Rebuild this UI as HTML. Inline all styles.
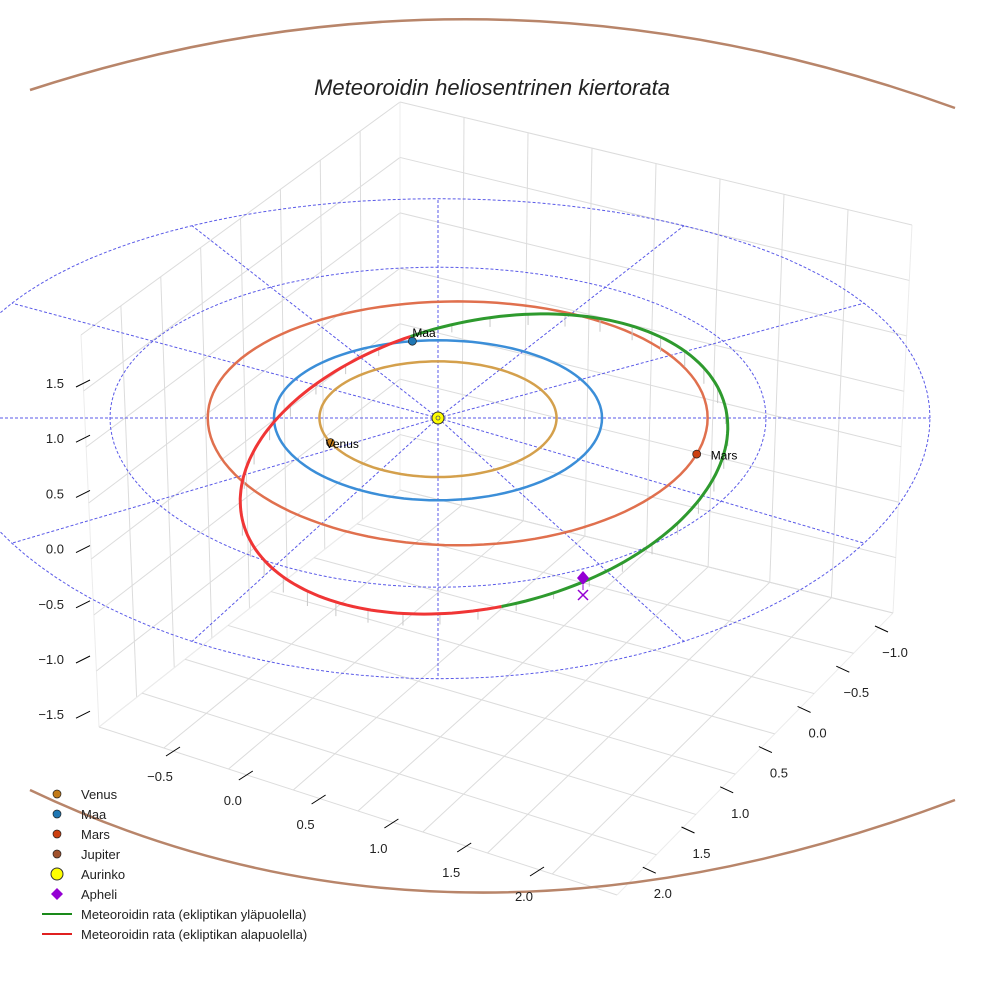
<!DOCTYPE html>
<html><head><meta charset="utf-8"><style>
body{margin:0;background:#fff}
svg{display:block;font-family:"Liberation Sans",sans-serif}
</style></head><body>
<svg id="c" width="984" height="984" viewBox="0 0 984 984">
<rect width="984" height="984" fill="#fff"/>
<g id="grid"></g><g id="dash"></g><g id="orbits"></g><g id="marks"></g><g id="axes"></g><g id="legend"></g>
<text x="492" y="95" text-anchor="middle" font-size="22" font-style="italic" fill="#222">Meteoroidin heliosentrinen kiertorata</text>
</svg>
<script>
const planetNames=["Venus","Maa","Mars","Jupiter"];
const planetA=[0.723,1.0,1.524,5.2];
const planetCenterX=[0,0,0.12,0];
const planetColors=["#d4a04c","#3b8ed8","#e0704e","#b8856a"];
const planetMarkerColors=["#c27a18","#1f77b4","#cc4010","#a0522d"];
const planetAngles=[205,99,-17,0];
const zTicks=["1.5","1.0","0.5","0.0","−0.5","−1.0","−1.5"];
const xTicks=["−0.5","0.0","0.5","1.0","1.5","2.0"];
const yTicks=["−1.0","−0.5","0.0","0.5","1.0","1.5","2.0"];
const refRadii=[2,3];
const radialAngles=[0,30,60,90,120,150,180,210,240,270,300,330];
const NS="http://www.w3.org/2000/svg";
function el(tag,attrs,parent){const e=document.createElementNS(NS,tag);for(const k in attrs)e.setAttribute(k,attrs[k]);parent.appendChild(e);return e;}
const SX=164,SY=80,CX=438,CY=418;
function px(X,Y){return [CX+SX*X, CY-SY*Y+2.3*Y*Y];}
const grid=document.getElementById('grid');
function lerp(a,b,t){return [a[0]+(b[0]-a[0])*t,a[1]+(b[1]-a[1])*t];}
function bil(p,u,v){const a=lerp(p[0],p[1],u),b=lerp(p[3],p[2],u);return lerp(a,b,v);}
const panes=[
 [[81,335],[400,102],[400,490],[99,727]],
 [[400,102],[912,225],[893,613],[400,490]],
 [[400,490],[893,613],[617,895],[99,727]]];
panes.forEach((p,i)=>{
 const g=el('g',{},grid);
 
 
 const nu=8,nv=7;
 for(let k=0;k<=nu;k++){const u=k/nu;const a=bil(p,u,0),b=bil(p,u,1);
  el('line',{x1:a[0],y1:a[1],x2:b[0],y2:b[1],stroke:k==0||k==nu?'#ececec':'#dcdcdc','stroke-width':1},g);}
 for(let k=0;k<=nv;k++){const v=k/nv;const a=bil(p,0,v),b=bil(p,1,v);
  el('line',{x1:a[0],y1:a[1],x2:b[0],y2:b[1],stroke:'#dcdcdc','stroke-width':1},g);}
});
const dash=document.getElementById('dash');
function circPath(r,ox){ox=ox||0;let d='';for(let i=0;i<=120;i++){const t=i/120*2*Math.PI;const p=px(ox+r*Math.cos(t),r*Math.sin(t));d+=(i?'L':'M')+p[0].toFixed(1)+','+p[1].toFixed(1);}return d;}
refRadii.forEach(r=>{const e=el('path',{d:circPath(r),fill:'none',stroke:'#5a5ae8','stroke-width':1,'stroke-dasharray':'3,2'},dash);
 });
radialAngles.forEach(a=>{const t=a*Math.PI/180;const p=px(3*Math.cos(t),3*Math.sin(t));
 const e=el('line',{x1:CX,y1:CY,x2:p[0],y2:p[1],stroke:'#5a5ae8','stroke-width':1,'stroke-dasharray':'3,2'},dash);
 });
const orb=document.getElementById('orbits');
planetA.forEach((a,i)=>{
 if(i==3)return;
 const e=el('path',{d:circPath(a,planetCenterX[i]),fill:'none',stroke:planetColors[i],'stroke-width':2.5},orb);
 });
const jup=el('path',{d:'M30,90 Q490,-60 955,108 M30,790 Q450,990 955,800',fill:'none',stroke:planetColors[3],'stroke-width':2.5},orb);

const mCx=484,mCy=464,mRx=248,mRy=143,mRot=-13*Math.PI/180;
function mp(t){return [mCx+mRx*Math.cos(t)*Math.cos(mRot)-mRy*Math.sin(t)*Math.sin(mRot), mCy+mRx*Math.cos(t)*Math.sin(mRot)+mRy*Math.sin(t)*Math.cos(mRot)];}
function nearestT(x,y){let best=0,bd=1e9;for(let i=0;i<720;i++){const t=i/720*2*Math.PI,p=mp(t),d=(p[0]-x)**2+(p[1]-y)**2;if(d<bd){bd=d;best=t;}}return best;}
const maaP=px(Math.cos(planetAngles[1]*Math.PI/180),Math.sin(planetAngles[1]*Math.PI/180));
let tA=nearestT(maaP[0],maaP[1]),tB=nearestT(500,603);
if(tB<tA)tB+=2*Math.PI;
function seg(t0,t1){let d='';for(let i=0;i<=100;i++){const p=mp(t0+(t1-t0)*i/100);d+=(i?'L':'M')+p[0].toFixed(1)+','+p[1].toFixed(1);}return d;}
for(let i=0;i<40;i++){const t=i/40*2*Math.PI;const p=mp(t);const h=6+10*Math.abs(Math.sin(t-tA));
 const s=el('line',{x1:p[0],y1:p[1],x2:p[0],y2:p[1]+h,stroke:'#c8c8c8','stroke-width':1},orb);
 }
const g1=el('path',{d:seg(tA,tB),fill:'none',stroke:'#2e9a2e','stroke-width':3},orb);

const r1=el('path',{d:seg(tB,tA+2*Math.PI),fill:'none',stroke:'#f03535','stroke-width':3},orb);

const mk=document.getElementById('marks');
[0,1,2].forEach(i=>{const t=planetAngles[i]*Math.PI/180;const p=px(planetCenterX[i]+planetA[i]*Math.cos(t),planetA[i]*Math.sin(t));
 const c=el('circle',{cx:p[0],cy:p[1],r:4,fill:planetMarkerColors[i],stroke:'#222','stroke-width':0.7},mk);
 
 const tx=el('text',{x:p[0]+(i==2?14:i==1?0:-5),y:p[1]+(i==1?-4:2),'font-size':12,fill:'#000','dominant-baseline':i==1?'auto':'middle'},mk);
 tx.textContent=planetNames[i];});
const sun=el('circle',{cx:CX,cy:CY,r:6,fill:'#ffff00',stroke:'#333','stroke-width':1},mk);

el('circle',{cx:CX,cy:CY,r:2,fill:'none',stroke:'#555','stroke-width':0.8},mk);
const ap=el('path',{d:'M583,571 L589,578 L583,585 L577,578 Z',fill:'#9400d3'},mk);

el('line',{x1:583,y1:585,x2:583,y2:590,stroke:'#9400d3','stroke-width':1},mk);
const ax=el('path',{d:'M578,590 L588,600 M588,590 L578,600',stroke:'#9400d3','stroke-width':1.5},mk);

const axes=document.getElementById('axes');
zTicks.forEach((s,i)=>{const y=383+i*55.2;
 el('line',{x1:76,y1:y+4,x2:90,y2:y-3,stroke:'#000','stroke-width':1},axes);
 const t=el('text',{x:64,y:y+5,'text-anchor':'end','font-size':13,fill:'#222'},axes);t.textContent=s;
 });
xTicks.forEach((s,i)=>{const x=160+i*72.8,y=776+i*24;
 el('line',{x1:x+6,y1:y-20,x2:x+20,y2:y-29,stroke:'#000','stroke-width':1},axes);
 const t=el('text',{x:x,y:y+5,'text-anchor':'middle','font-size':13,fill:'#222'},axes);t.textContent=s;
 });
yTicks.forEach((s,i)=>{const x=895-i*38.7,y=652+i*40.2;
 el('line',{x1:x-20,y1:y-26,x2:x-7,y2:y-20,stroke:'#000','stroke-width':1},axes);
 const t=el('text',{x:x,y:y+5,'text-anchor':'middle','font-size':13,fill:'#222'},axes);t.textContent=s;
 });
const lg=document.getElementById('legend');
const legendLabels=["Venus","Maa","Mars","Jupiter","Aurinko","Apheli","Meteoroidin rata (ekliptikan yläpuolella)","Meteoroidin rata (ekliptikan alapuolella)"];
legendLabels.forEach((s,i)=>{const y=794+i*20;
 const g=el('g',{},lg);
 if(i<4)el('circle',{cx:57,cy:y,r:4,fill:planetMarkerColors[i],stroke:'#222','stroke-width':0.7},g);
 else if(i==4)el('circle',{cx:57,cy:y,r:6,fill:'#ffff00',stroke:'#333','stroke-width':1},g);
 else if(i==5)el('path',{d:`M57,${y-6} L63,${y} L57,${y+6} L51,${y} Z`,fill:'#9400d3'},g);
 else el('line',{x1:42,y1:y,x2:72,y2:y,stroke:i==6?'#1a8a1a':'#e02020','stroke-width':2},g);
 const t=el('text',{x:81,y:y+5,'font-size':13,fill:'#222'},g);t.textContent=s;});
</script>
</body></html>
